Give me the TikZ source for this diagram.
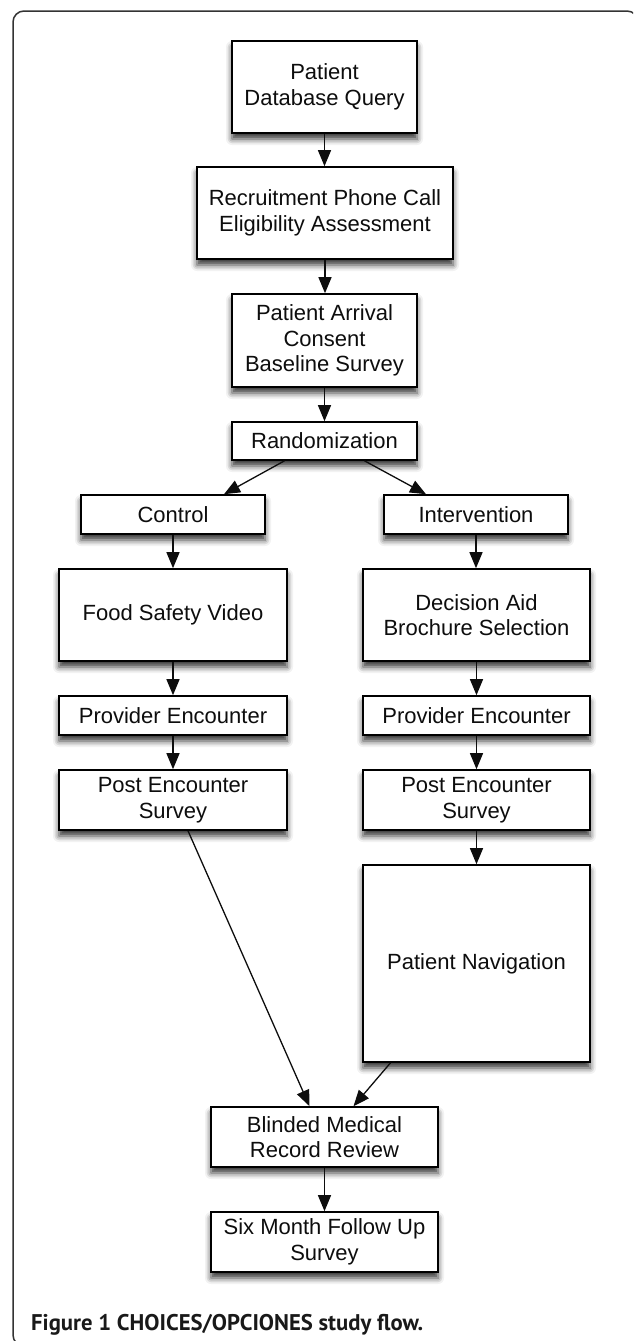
\documentclass[tikz,border=0pt]{standalone}
\usepackage{fontspec}
\setmainfont{Liberation Sans}
\newfontfamily\capfont{PT Sans}
\usetikzlibrary{arrows.meta,shadows.blur}
\begin{document}
\begin{tikzpicture}[x=1pt,y=-1pt,
  box/.style={draw=black, line width=1.6pt, fill=white, inner sep=0pt, align=center,
    font=\fontsize{22}{25.5}\selectfont, text=black!95,
    blur shadow={shadow xshift=0pt, shadow yshift=-6pt, shadow blur radius=6pt, shadow opacity=80}},
  wh/.style 2 args={minimum width=#1pt, minimum height=#2pt},
  arr/.style={line width=1.3pt, draw=black!95, -{Triangle[length=16pt,width=13pt]}}
]
\useasboundingbox (0,0) rectangle (633,1341);
\begin{scope}
  \clip (0,0) rectangle (633,1341);
  \draw[line width=1.5pt, black!80, rounded corners=11pt] (13,11) rectangle (638,1346);
\end{scope}

\node[box, wh={185}{92}] (db) at (324.5,87) {Patient\\Database Query};
\node[box, wh={256}{92}] (recruit) at (325,213) {Recruitment Phone Call\\Eligibility Assessment};
\node[box, wh={185}{93}] (arrival) at (324.5,340.5) {Patient Arrival\\Consent\\Baseline Survey};
\node[box, wh={185}{38}] (rand) at (324.5,441) {Randomization};
\node[box, wh={184}{39}] (control) at (173,514.5) {Control};
\node[box, wh={184}{39}] (interv) at (476,514.5) {Intervention};
\node[box, wh={228}{92}] (food) at (173,615) {Food Safety Video};
\node[box, wh={227}{92}] (decision) at (476.5,615) {Decision Aid\\Brochure Selection};
\node[box, wh={228}{39}] (provL) at (173,715.5) {Provider Encounter};
\node[box, wh={227}{39}] (provR) at (476.5,715.5) {Provider Encounter};
\node[box, wh={228}{60}] (postL) at (173,800) {Post Encounter\\Survey};
\node[box, wh={227}{60}] (postR) at (476.5,800) {Post Encounter\\Survey};
\node[box, wh={227}{197}] (nav) at (476.5,963.5) {Patient Navigation};
\node[box, wh={227}{60}] (blinded) at (324.5,1137) {Blinded Medical\\Record Review};
\node[box, wh={227}{60}] (six) at (324.5,1242) {Six Month Follow Up\\Survey};

\draw[arr] (db.south) -- (db.south |- recruit.north);
\draw[arr] (recruit.south) -- (recruit.south |- arrival.north);
\draw[arr] (arrival.south) -- (arrival.south |- rand.north);
\draw[arr] ([xshift=-40pt]rand.south) -- ([xshift=51pt]control.north);
\draw[arr] ([xshift=40pt]rand.south) -- ([xshift=-50pt]interv.north);
\draw[arr] (control.south) -- (control.south |- food.north);
\draw[arr] (interv.south) -- (interv.south |- decision.north);
\draw[arr] (food.south) -- (food.south |- provL.north);
\draw[arr] (decision.south) -- (decision.south |- provR.north);
\draw[arr] (provL.south) -- (provL.south |- postL.north);
\draw[arr] (provR.south) -- (provR.south |- postR.north);
\draw[arr] (postR.south) -- (postR.south |- nav.north);
\draw[arr] ([xshift=15pt]postL.south) -- ([xshift=-15pt]blinded.north);
\draw[arr] ([xshift=-86pt]nav.south) -- ([xshift=29pt]blinded.north);
\draw[arr] (blinded.south) -- (blinded.south |- six.north);

\node[anchor=base west, inner sep=0pt, text=black!90] (cap) at (31,1330)
  {\resizebox{392pt}{!}{\capfont\bfseries Figure 1 CHOICES/OPCIONES study flow.}};
\end{tikzpicture}
\end{document}
